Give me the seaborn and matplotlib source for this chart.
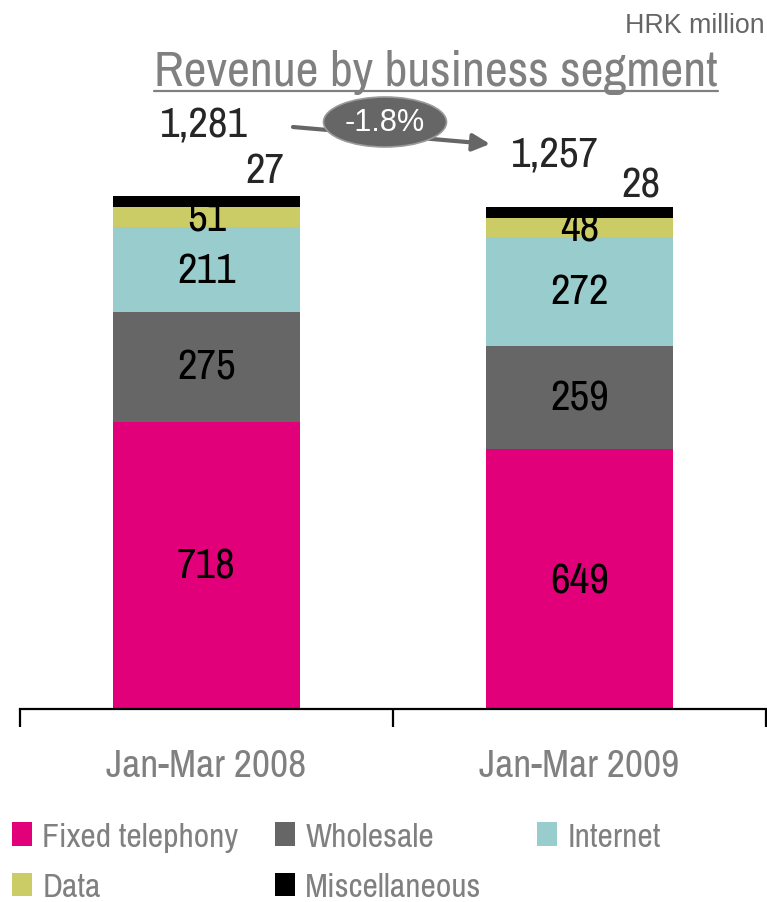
import numpy as np
import pandas as pd
import matplotlib.pyplot as plt
import seaborn as sns
from matplotlib import font_manager
from matplotlib.patches import Ellipse
from matplotlib.lines import Line2D

# data
periods = ["Jan-Mar 2008", "Jan-Mar 2009"]
segments = ["Fixed telephony", "Wholesale", "Internet", "Data", "Miscellaneous"]
fixed = [718, 649]
wholesale = [275, 259]
internet = [211, 272]
data_seg = [51, 48]
misc = [27, 28]
totals = [1281, 1257]
change_label = "-1.8%"

colors = ["#E2007A", "#666666", "#99CCCC", "#CCCC66", "#000000"]

# pick a narrow font if there is one
installed = {f.name for f in font_manager.fontManager.ttflist}
narrow = "DejaVu Sans"
for cand in ["Liberation Sans Narrow", "Archivo Narrow", "PT Sans Narrow",
             "Roboto Condensed", "Pragati Narrow", "Fira Sans Condensed",
             "IBM Plex Sans Condensed"]:
    if cand in installed:
        narrow = cand
        break
regular = "Liberation Sans" if "Liberation Sans" in installed else "DejaVu Sans"

sns.set_style("white")
plt.rcParams["font.family"] = [narrow, "DejaVu Sans"]

W, H = 767, 903
fig = plt.figure(figsize=(W / 100, H / 100), dpi=100)
ax = fig.add_axes([20 / W, (H - 710) / H, 746 / W, 710 / H])
renderer = fig.canvas.get_renderer()


def fx(px):
    return px / W


def fy(py):
    return (H - py) / H


def fit(t, target):
    # scale the font so that the text is target pixels wide
    w = t.get_window_extent(renderer).width
    t.set_fontsize(t.get_fontsize() * target / w)
    return t.get_fontsize()


# size of the value labels from "1,281" (88 px wide in the reference)
probe = fig.text(0, 0, f"{totals[0]:,}", fontsize=30)
num_fs = fit(probe, 88)
probe.remove()

values = [fixed, wholesale, internet, data_seg, misc]
bottom = np.zeros(len(periods))
for name, vals, col in zip(segments, values, colors):
    df = pd.DataFrame({"period": periods, "value": vals})
    sns.barplot(data=df, x="period", y="value", color=col, saturation=1,
                width=0.5, bottom=bottom, errorbar=None, linewidth=0,
                label=name, ax=ax)
    if name != "Miscellaneous":
        for i, v in enumerate(vals):
            ax.text(i, bottom[i] + v / 2, f"{v}", ha="center", va="center",
                    fontsize=num_fs, color="black")
    bottom = bottom + np.array(vals)
if ax.get_legend() is not None:
    ax.get_legend().remove()

# labels of the thin Miscellaneous segment
ax.text(0.157, 1347, f"{misc[0]}", ha="center", va="center", fontsize=num_fs)
ax.text(1.165, 1310, f"{misc[1]}", ha="center", va="center", fontsize=num_fs,
        bbox=dict(facecolor="white", edgecolor="none", pad=1))

# totals
ax.text(-0.007, 1460, f"{totals[0]:,}", ha="center", va="center", fontsize=num_fs)
ax.text(0.934, 1385, f"{totals[1]:,}", ha="center", va="center", fontsize=num_fs)

ax.set_xlim(-0.5, 1.5)
ax.set_ylim(0, 1775)
ax.set_xlabel("")
ax.set_ylabel("")
ax.set_yticks([])
for s in ["left", "top", "right"]:
    ax.spines[s].set_visible(False)
ax.spines["bottom"].set_linewidth(1.6)
ax.spines["bottom"].set_color("black")
ax.set_xticks([-0.5, 0.5, 1.5], ["", "", ""])
ax.set_xticks([0, 1], periods, minor=True)
ax.tick_params(axis="x", which="major", direction="out", length=13, width=1.6,
               color="black", bottom=True)
probe = fig.text(0, 0, periods[0], fontsize=29)
tick_fs = fit(probe, 200)
probe.remove()
ax.tick_params(axis="x", which="minor", length=0, pad=28, labelsize=tick_fs,
               labelcolor="#808080")

# arrow with the change bubble
ax.annotate("", xy=(fx(490), fy(145)), xytext=(fx(293), fy(128)),
            xycoords="figure fraction", textcoords="figure fraction",
            arrowprops=dict(arrowstyle="-|>", color="#666666", lw=3,
                            mutation_scale=26, shrinkA=0, shrinkB=0))
ell = Ellipse((fx(385), fy(123)), 123 / W, 50 / H, transform=fig.transFigure,
              facecolor="#666666", edgecolor="#9a9a9a", lw=1.2, zorder=5)
fig.add_artist(ell)
t = fig.text(fx(385), fy(123), change_label, ha="center", va="center",
             fontsize=21, color="white", family=[regular, "DejaVu Sans"], zorder=6)
fit(t, 80)

# unit and title
t = fig.text(fx(765), fy(26), "HRK million", ha="right", va="center",
             fontsize=17, color="#666666", family=[regular, "DejaVu Sans"])
fit(t, 140)
title = fig.text(fx(436), fy(86), "Revenue by business segment", ha="center",
                 va="baseline", fontsize=36, color="#808080")
fit(title, 563)
bb = title.get_window_extent(renderer)
fig.add_artist(Line2D([bb.x0 / W, bb.x1 / W], [fy(92), fy(92)],
                      transform=fig.transFigure, color="#808080", lw=1.6))

# legend in three columns
probe = fig.text(0, 0, "Fixed telephony", fontsize=25)
leg_fs = fit(probe, 197)
probe.remove()
handles, labels = ax.get_legend_handles_labels()
hmap = dict(zip(labels, handles))
columns = [(["Fixed telephony", "Data"], 12), (["Wholesale", "Miscellaneous"], 275),
           (["Internet"], 537)]
for names, left in columns:
    leg = fig.legend([hmap[n] for n in names], names, loc="upper left",
                     bbox_to_anchor=(fx(left), fy(823)), frameon=False,
                     fontsize=leg_fs, handlelength=0.6, handleheight=0.7,
                     handletextpad=0.3, labelspacing=0.6, borderpad=0,
                     borderaxespad=0)
    for tx in leg.get_texts():
        tx.set_color("#808080")

fig.savefig("out.png", dpi=100)
